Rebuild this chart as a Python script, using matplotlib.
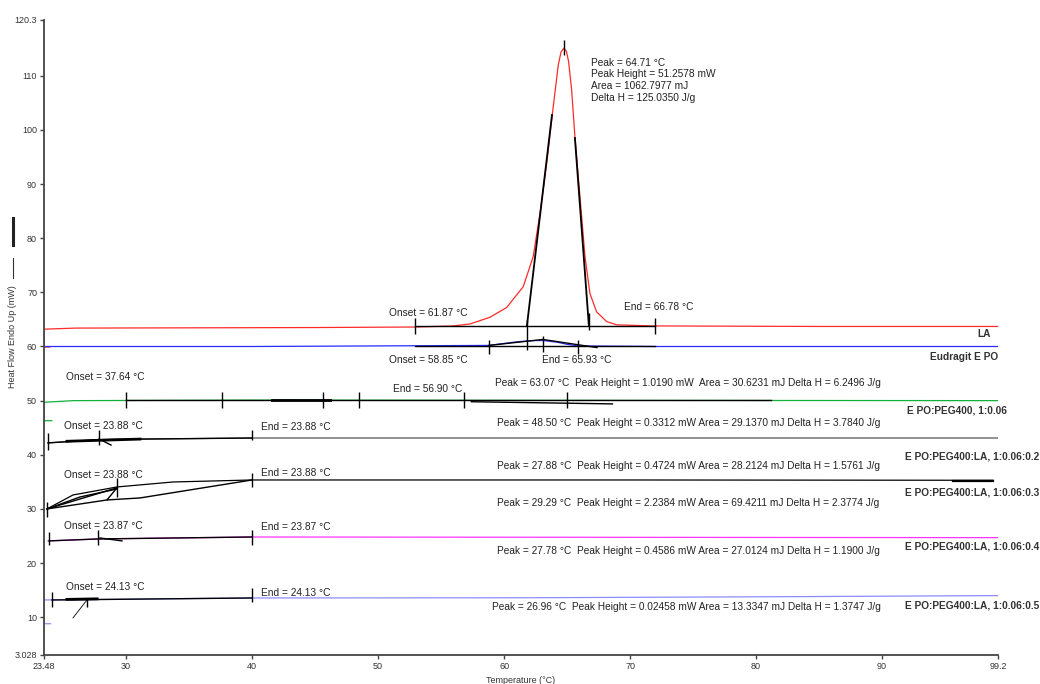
import matplotlib
matplotlib.use("Agg")
import matplotlib.pyplot as plt
from matplotlib.lines import Line2D

plt.rcParams['font.family'] = ['Liberation Sans', 'DejaVu Sans']

# ---- DSC curves: temperature (degC) / heat flow (mW) ----
la_t = [23.95, 23.48, 23.48, 26.0, 45.0, 53.0, 55.96, 57.29, 58.88, 60.2, 61.52, 62.31,
        62.85, 63.38, 63.9, 64.3, 64.52, 64.75, 64.95, 65.12, 65.36, 65.62, 66.02, 66.42,
        66.81, 67.34, 68.14, 68.93, 71.8, 85.0, 99.2]
la_hf = [59.9, 59.9, 63.2, 63.4, 63.5, 63.6, 63.8, 64.16, 65.4, 67.2, 71.05, 76.6,
         84.6, 93.84, 104.3, 112.0, 114.4, 115.1, 114.5, 112.6, 107.4, 98.75, 87.7, 76.6,
         69.8, 66.4, 64.6, 64.0, 63.8, 63.7, 63.7]

epo_t = [23.48, 40.0, 58.8, 59.8, 60.8, 61.7, 62.5, 63.1, 64.2, 65.0, 65.9, 72.0, 99.2]
epo_hf = [60.0, 60.0, 60.2, 60.5, 60.8, 61.0, 61.1, 61.1, 60.8, 60.4, 60.1, 60.0, 60.0]

peg_t = [24.1, 23.48, 23.48, 25.8, 40.0, 99.2]
peg_hf = [46.3, 46.3, 49.7, 50.0, 50.1, 50.0]

la02_t = [23.8, 28.0, 31.1, 40.0, 99.2]
la02_hf = [42.2, 42.8, 42.9, 43.1, 43.1]

la03_t = [23.72, 25.78, 29.27, 33.72, 39.99, 70.0, 95.6, 98.8]
la03_hf = [30.0, 32.58, 34.06, 34.98, 35.35, 35.35, 35.3, 35.3]

la04_t = [23.8, 27.9, 40.0, 99.2]
la04_hf = [24.1, 24.46, 24.82, 24.7]

la05_t = [24.0, 23.48, 23.48, 24.12, 40.0, 62.0, 82.6, 99.2]
la05_hf = [8.8, 8.8, 13.2, 13.2, 13.56, 13.6, 13.8, 14.0]

curves = [
    (la_t, la_hf, '#ff2a2a'),
    (epo_t, epo_hf, '#2a2aff'),
    (peg_t, peg_hf, '#12b03a'),
    (la02_t, la02_hf, '#555555'),
    (la03_t, la03_hf, '#000000'),
    (la04_t, la04_hf, '#ff33ff'),
    (la05_t, la05_hf, '#8c8cff'),
]

# ---- analysis (onset / end / peak construction) lines ----
calc_lines = [
    ([52.93, 71.97], [63.8, 63.8], 1.0),
    ([61.81, 63.80], [63.8, 102.75], 1.3),
    ([66.73, 65.62], [63.8, 98.5], 1.3),
    ([52.93, 71.97], [60.0, 60.0], 1.0),
    ([58.8, 63.08, 67.37], [60.2, 61.3, 59.8], 1.0),
    ([29.99, 81.18], [50.12, 50.12], 1.0),
    ([41.6, 46.2], [50.15, 50.15], 2.0),
    ([57.4, 63.0, 68.6], [49.8, 49.6, 49.4], 1.0),
    ([23.8, 27.85, 31.1, 39.99], [42.2, 42.8, 42.9, 43.1], 1.0),
    ([25.3, 31.1], [42.5, 42.9], 2.0),
    ([27.85, 28.8], [42.92, 41.8], 1.0),
    ([23.72, 26.34, 29.27], [30.0, 32.21, 33.69], 1.0),
    ([23.72, 29.27], [30.0, 33.9], 1.0),
    ([29.27, 28.48], [33.9, 31.66], 1.0),
    ([23.72, 28.48, 31.1, 39.99], [30.0, 31.66, 32.03, 35.35], 1.0),
    ([95.6, 98.8], [35.25, 35.25], 1.6),
    ([23.88, 27.77, 39.99], [24.1, 24.46, 24.82], 1.0),
    ([27.92, 29.67], [24.64, 24.1], 1.0),
    ([24.12, 39.99], [13.19, 13.56], 1.0),
    ([25.3, 27.7], [13.3, 13.4], 2.0),
    ([26.89, 25.78], [13.19, 9.87], 0.6),
]

# tick marks: (temperature, low, high)
calc_ticks = [
    (52.93, 62.3, 65.3), (61.81, 59.4, 64.9), (66.73, 63.05, 66.2), (71.97, 62.3, 65.3),
    (64.75, 113.8, 116.6),
    (58.8, 58.6, 61.2), (63.08, 59.0, 62.0), (65.86, 58.6, 61.2),
    (29.99, 48.65, 51.6), (37.61, 48.65, 51.6), (45.62, 48.65, 51.6),
    (48.48, 48.65, 51.6), (56.81, 48.65, 51.6), (64.99, 48.65, 51.6),
    (23.8, 40.9, 44.0), (27.85, 41.8, 44.6), (39.99, 42.8, 44.6),
    (23.72, 28.5, 31.3), (29.27, 32.2, 35.7), (39.99, 34.06, 36.64),
    (23.88, 23.35, 25.75), (27.77, 23.35, 26.1), (39.99, 23.35, 26.1),
    (24.12, 11.9, 14.67), (26.89, 11.9, 13.56), (39.99, 12.8, 15.4),
]

# annotation texts: (temperature, heat flow, text)
notes = [
    (50.86, 66.19, 'Onset = 61.87 °C'),
    (69.51, 67.3, 'End = 66.78 °C'),
    (50.86, 57.51, 'Onset = 58.85 °C'),
    (63.0, 57.51, 'End = 65.93 °C'),
    (25.23, 54.37, 'Onset = 37.64 °C'),
    (51.18, 52.16, 'End = 56.90 °C'),
    (25.07, 45.32, 'Onset = 23.88 °C'),
    (40.7, 45.14, 'End = 23.88 °C'),
    (25.07, 36.3, 'Onset = 23.88 °C'),
    (40.7, 36.64, 'End = 23.88 °C'),
    (25.07, 26.86, 'Onset = 23.87 °C'),
    (40.7, 26.67, 'End = 23.87 °C'),
    (25.23, 15.59, 'Onset = 24.13 °C'),
    (40.7, 14.48, 'End = 24.13 °C'),
    (59.27, 53.26, 'Peak = 63.07 °C  Peak Height = 1.0190 mW  Area = 30.6231 mJ Delta H = 6.2496 J/g'),
    (59.43, 45.88, 'Peak = 48.50 °C  Peak Height = 0.3312 mW Area = 29.1370 mJ Delta H = 3.7840 J/g'),
    (59.43, 37.94, 'Peak = 27.88 °C  Peak Height = 0.4724 mW Area = 28.2124 mJ Delta H = 1.5761 J/g'),
    (59.43, 31.1, 'Peak = 29.29 °C  Peak Height = 2.2384 mW Area = 69.4211 mJ Delta H = 2.3774 J/g'),
    (59.43, 22.24, 'Peak = 27.78 °C  Peak Height = 0.4586 mW Area = 27.0124 mJ Delta H = 1.1900 J/g'),
    (59.04, 11.9, 'Peak = 26.96 °C  Peak Height = 0.02458 mW Area = 13.3347 mJ Delta H = 1.3747 J/g'),
]
la_peak_note = 'Peak = 64.71 °C\nPeak Height = 51.2578 mW\nArea = 1062.7977 mJ\nDelta H = 125.0350 J/g'

# sample names at the right: (temperature, heat flow, text, alignment)
names = [
    (98.64, 62.31, 'LA', 'right'),
    (99.2, 58.07, 'Eudragit E PO', 'right'),
    (91.97, 48.1, 'E PO:PEG400, 1:0.06', 'left'),
    (91.81, 39.6, 'E PO:PEG400:LA, 1:0.06:0.2', 'left'),
    (91.81, 32.95, 'E PO:PEG400:LA, 1:0.06:0.3', 'left'),
    (91.81, 23.0, 'E PO:PEG400:LA, 1:0.06:0.4', 'left'),
    (91.81, 12.08, 'E PO:PEG400:LA, 1:0.06:0.5', 'left'),
]

xticks = [23.48, 30, 40, 50, 60, 70, 80, 90, 99.2]
xlabels = ['23.48', '30', '40', '50', '60', '70', '80', '90', '99.2']
yticks = [3.028, 10, 20, 30, 40, 50, 60, 70, 80, 90, 100, 110, 120.3]
ylabels = ['3.028', '10', '20', '30', '40', '50', '60', '70', '80', '90', '100', '110', '120.3']

fig = plt.figure(figsize=(10.4, 6.84), dpi=100)
ax = fig.add_axes([0.0423, 0.0424, 0.9173, 0.9284])

for t, hf, c in curves:
    ax.plot(t, hf, color=c, lw=0.9)
for t, hf, w in calc_lines:
    ax.plot(t, hf, color='black', lw=w)
for t, lo, hi in calc_ticks:
    ax.vlines(t, lo, hi, color='black', lw=1.0)

txt = '#222222'
for t, hf, s in notes:
    ax.text(t, hf, s, fontsize=7.3, color=txt, va='center', ha='left')
ax.text(66.89, 113.3, la_peak_note, fontsize=7.3, color=txt, va='top', ha='left',
        linespacing=1.2)
for t, hf, s, ha in names:
    ax.text(t, hf, s, fontsize=7.3, color='#333333', fontweight='bold',
            va='center', ha=ha, clip_on=False)

ax.set_xlim(23.48, 99.2)
ax.set_ylim(3.028, 120.3)
ax.set_xticks(xticks)
ax.set_xticklabels(xlabels)
ax.set_yticks(yticks)
ax.set_yticklabels(ylabels)
ax.tick_params(direction='out', length=3, width=1, color='#444444',
               labelsize=6.5, labelcolor='#333333', pad=2)
for side in ['top', 'right']:
    ax.spines[side].set_visible(False)
for side in ['left', 'bottom']:
    ax.spines[side].set_color('#444444')
    ax.spines[side].set_linewidth(1.3)

ax.set_xlabel('Temperature (°C)', fontsize=6.5, color='#333333', labelpad=4)
fig.text(13 / 1040, 1 - 337 / 684, 'Heat Flow Endo Up (mW)', rotation=90,
         fontsize=6.5, color='#333333', ha='center', va='center')
# line-style marks next to the y label
fig.add_artist(Line2D([13 / 1040, 13 / 1040], [1 - 278 / 684, 1 - 258 / 684],
                      color='#333333', lw=0.8))
fig.add_artist(Line2D([13 / 1040, 13 / 1040], [1 - 245 / 684, 1 - 218 / 684],
                      color='#222222', lw=2.2))

fig.savefig('out.png', dpi=100)
